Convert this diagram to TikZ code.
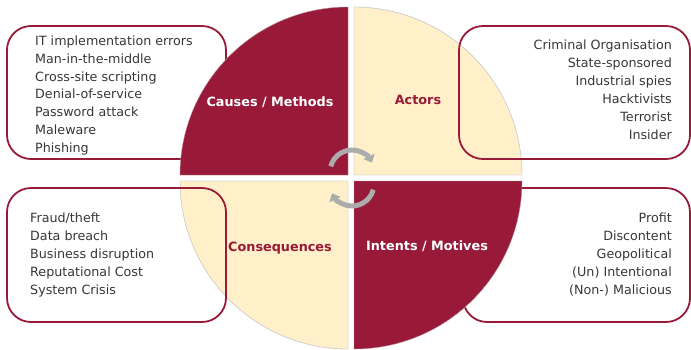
\documentclass[tikz,border=0pt]{standalone}
\usepackage{fontspec}
\setmainfont{DejaVu Sans}
\usetikzlibrary{arrows.meta}
\definecolor{wine}{RGB}{152,26,56}
\definecolor{cream}{RGB}{255,240,202}
\definecolor{txt}{RGB}{55,55,55}
\definecolor{cyc}{RGB}{172,172,172}
\tikzset{
  quadred/.style={fill=wine,draw=wine!60!gray!60,line width=0.4pt},
  quadyel/.style={fill=cream,draw=gray!40,line width=0.4pt},
  listbox/.style={draw=wine,line width=1.8pt,rounded corners=24pt},
  listtxt/.style={font=\fontsize{12.7}{18}\selectfont,text=txt,inner sep=0pt},
  listtxttl/.style={font=\fontsize{12.7}{17.7}\selectfont,text=txt,inner sep=0pt},
  lbl/.style={font=\fontsize{12.8}{15}\selectfont\bfseries,inner sep=0pt},
  cycarrow/.style={draw=cyc,line width=5pt,-{Triangle[width=12pt,length=7pt]}}
}
\begin{document}
\begin{tikzpicture}[x=1pt,y=-1pt]
\useasboundingbox (0,0) rectangle (691,349);
% yellow quadrants
\fill[quadyel] (354,175) -- ++(0,-168) arc[start angle=270,end angle=360,radius=168] -- cycle;
\fill[quadyel] (348,181) -- ++(0,168) arc[start angle=90,end angle=180,radius=168] -- cycle;
\draw[quadyel,fill=none] (354,175) -- ++(0,-168) arc[start angle=270,end angle=360,radius=168] -- cycle;
\draw[quadyel,fill=none] (348,181) -- ++(0,168) arc[start angle=90,end angle=180,radius=168] -- cycle;
% boxes
\draw[listbox] (7,26) rectangle (226,159);
\draw[listbox] (459,26) rectangle (690,159);
\draw[listbox] (7,188) rectangle (226,322);
\draw[listbox] (463,188) rectangle (690,322);
% red quadrants
\filldraw[quadred] (348,175) -- ++(-168,0) arc[start angle=180,end angle=270,radius=168] -- cycle;
\filldraw[quadred] (354,181) -- ++(168,0) arc[start angle=0,end angle=90,radius=168] -- cycle;
% labels
\node[lbl,text=white] (causes) at (270,102) {Causes / Methods};
\node[lbl,text=wine] (actors) at (418,100) {Actors};
\node[lbl,text=wine] (conseq) at (280,248) {Consequences};
\node[lbl,text=white] (intents) at (427,246) {Intents / Motives};
% lists
\node[listtxttl,anchor=north west,align=left] (causeslist) at (35,36) {IT implementation errors\\Man-in-the-middle\\Cross-site scripting\\Denial-of-service\\Password attack\\Maleware\\Phishing};
\node[listtxt,anchor=north east,align=right] (actorslist) at (672,39.5) {Criminal Organisation\\State-sponsored\\Industrial spies\\Hacktivists\\Terrorist\\Insider};
\node[listtxt,anchor=north west,align=left] (conseqlist) at (30,213) {Fraud/theft\\Data breach\\Business disruption\\Reputational Cost\\System Crisis};
\node[listtxt,anchor=north east,align=right] (intentslist) at (672,213) {Profit\\Discontent\\Geopolitical\\(Un) Intentional\\(Non-) Malicious};
% cycle arrows
\coordinate (cupper) at (352,172);
\coordinate (clower) at (352,184);
\draw[cycarrow] (cupper) ++(-165:22) arc[start angle=-165,end angle=-25,radius=22];
\draw[cycarrow] (clower) ++(15:22) arc[start angle=15,end angle=155,radius=22];
\end{tikzpicture}
\end{document}
